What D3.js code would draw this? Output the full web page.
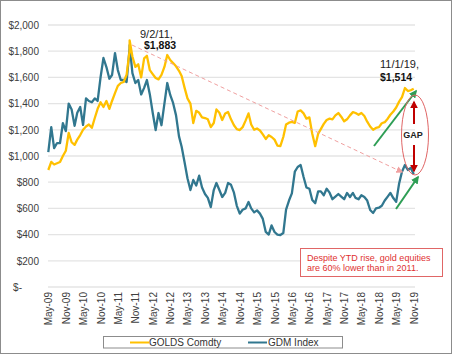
<!DOCTYPE html>
<html><head><meta charset="utf-8">
<script src="https://cdn.jsdelivr.net/npm/d3@7"></script>
<style>
body{margin:0;background:#fff;}
svg{display:block;font-family:"Liberation Sans",Arial,sans-serif;}
</style></head>
<body><svg id="c" width="454" height="357"></svg>
<script>
// monthly observation dates (first of month), May 2009 .. Nov 2019
const startMonth = "2009-05-01";
const nMonths = 127;
const goldValues = [893,955,935,945,954,1000,1040,1176,1105,1085,1125,1160,1200,1225,1240,1215,1290,1360,1410,1374,1420,1360,1420,1480,1535,1557,1565,1620,1800,1760,1680,1700,1600,1745,1765,1655,1625,1595,1585,1620,1680,1771,1733,1710,1685,1650,1610,1520,1440,1400,1252,1345,1330,1295,1290,1280,1220,1252,1355,1330,1275,1325,1336,1280,1235,1205,1198,1220,1270,1325,1240,1200,1210,1195,1165,1130,1158,1145,1125,1080,1075,1145,1240,1254,1260,1252,1340,1348,1325,1285,1295,1170,1075,1170,1205,1245,1275,1285,1280,1310,1328,1300,1265,1280,1310,1335,1328,1315,1328,1305,1262,1225,1200,1214,1220,1250,1258,1285,1315,1340,1370,1415,1450,1519,1496,1502,1514];
const gdmValues = [1030,1221,1060,1099,1099,1250,1190,1400,1355,1230,1330,1374,1237,1440,1420,1410,1440,1420,1603,1748,1679,1590,1618,1786,1656,1580,1580,1565,1820,1633,1557,1580,1470,1520,1580,1470,1330,1198,1328,1235,1400,1557,1466,1405,1310,1150,1070,950,830,740,817,775,850,760,710,680,610,740,794,740,687,718,794,780,720,620,560,590,600,649,600,570,585,560,520,420,400,470,420,400,397,412,590,660,715,880,916,931,840,760,750,664,640,730,730,700,750,720,670,690,710,690,670,718,687,718,680,670,700,687,660,588,565,600,605,620,660,690,718,679,650,790,880,931,893,910,860];
// peak observation
const peakDate = "2011-09-02", goldPeak = 1883, gdmPeak = 1847;
const yTicks = [0,200,400,600,800,1000,1200,1400,1600,1800,2000];
const seriesNames = ["GOLDS Comdty","GDM Index"];
const colors = ["#ffc000","#31778f"];

const parse = d3.timeParse("%Y-%m-%d");
const t0 = parse(startMonth);
const dates = d3.range(nMonths).map(i => d3.timeMonth.offset(t0, i));
function build(vals, peakVal){
  const arr = dates.map((d,i)=>({d, v: vals[i]}));
  arr.push({d: parse(peakDate), v: peakVal});
  arr.sort((a,b)=>a.d-b.d);
  return arr;
}
const gold = build(goldValues, goldPeak);
const gdm = build(gdmValues, gdmPeak);

const svg = d3.select("#c");
const x = d3.scaleTime().domain([t0, dates[dates.length-1]]).range([48.3, 413.7]);
const y = d3.scaleLinear().domain([0,2000]).range([287,25]);

// outer border
svg.append("rect").attr("x",0.5).attr("y",0.5).attr("width",451).attr("height",353)
  .attr("fill","none").attr("stroke","#8c8c8c").attr("stroke-width",1);

// gridlines
svg.append("g").selectAll("line").data(yTicks).join("line")
  .attr("x1",48).attr("x2",415).attr("y1",d=>y(d)).attr("y2",d=>y(d))
  .attr("stroke","#e4e4e4").attr("stroke-width",1.3);

// y axis labels
const yAxis = d3.axisLeft(y).tickValues(yTicks).tickSize(0).tickPadding(0)
  .tickFormat(d => d===0 ? "$-" : "$" + d3.format(",")(d));
const gy = svg.append("g").attr("transform","translate(39,0)").call(yAxis);
gy.select(".domain").remove();
gy.selectAll("text").attr("font-size",10).attr("fill","#404040")
  .attr("font-family","Liberation Sans, Arial, sans-serif")
  .attr("dx", d => d===0 ? -17 : 0);

// x axis labels
const xTickDates = d3.range(0, nMonths, 6).map(i => dates[i]);
const xAxis = d3.axisBottom(x).tickValues(xTickDates).tickSize(0).tickPadding(0)
  .tickFormat(d3.timeFormat("%b-%y"));
const gx = svg.append("g").attr("transform","translate(0,292)").call(xAxis);
gx.select(".domain").remove();
gx.selectAll("text").attr("font-size",10).attr("fill","#404040")
  .attr("font-family","Liberation Sans, Arial, sans-serif")
  .attr("text-anchor","end").attr("transform","rotate(-90)")
  .attr("x",0).attr("y",0).attr("dy","0.35em");

// lines
const line = d3.line().x(d=>x(d.d)).y(d=>y(d.v));
svg.append("path").datum(gdm).attr("d",line).attr("fill","none")
  .attr("stroke",colors[1]).attr("stroke-width",2.3).attr("stroke-linejoin","round");
svg.append("path").datum(gold).attr("d",line).attr("fill","none")
  .attr("stroke",colors[0]).attr("stroke-width",2.3).attr("stroke-linejoin","round");

// markers
const defs = svg.append("defs");
function marker(id, color, size){
  defs.append("marker").attr("id",id).attr("viewBox","0 0 10 10").attr("refX",8).attr("refY",5)
    .attr("markerWidth",size).attr("markerHeight",size).attr("orient","auto-start-reverse")
    .attr("markerUnits","userSpaceOnUse")
    .append("path").attr("d","M0,0 L10,5 L0,10 z").attr("fill",color);
}
marker("mp","#f0a0a0",7);
marker("mg","#2e9e55",8);
marker("mr","#c00000",8);

// pink dashed trend line
svg.append("line").attr("x1",132).attr("y1",45).attr("x2",402).attr("y2",172)
  .attr("stroke","#f0a0a0").attr("stroke-width",1).attr("stroke-dasharray","4,3")
  .attr("marker-end","url(#mp)");

// green arrows
svg.append("line").attr("x1",374).attr("y1",146).attr("x2",416).attr("y2",91)
  .attr("stroke","#2e9e55").attr("stroke-width",2).attr("marker-end","url(#mg)");
svg.append("line").attr("x1",396).attr("y1",209).attr("x2",418).attr("y2",177)
  .attr("stroke","#2e9e55").attr("stroke-width",2).attr("marker-end","url(#mg)");

// gap ellipse & arrows
svg.append("ellipse").attr("cx",415).attr("cy",135).attr("rx",13.5).attr("ry",40)
  .attr("fill","none").attr("stroke","#e06666").attr("stroke-width",1);
svg.append("line").attr("x1",414).attr("y1",124).attr("x2",414).attr("y2",102)
  .attr("stroke","#c00000").attr("stroke-width",2).attr("marker-end","url(#mr)");
svg.append("line").attr("x1",414).attr("y1",145).attr("x2",414).attr("y2",171)
  .attr("stroke","#c00000").attr("stroke-width",2).attr("marker-end","url(#mr)");
svg.append("text").attr("x",413).attr("y",138).attr("text-anchor","middle")
  .attr("font-size",9).attr("font-weight","bold").attr("fill","#222").text("GAP");

// peak annotations
svg.append("text").attr("x",140).attr("y",38).attr("font-size",11).attr("fill","#222").text("9/2/11,");
svg.append("text").attr("x",144).attr("y",49).attr("font-size",10.5).attr("font-weight","bold").attr("fill","#111").text("$1,883");
svg.append("text").attr("x",380).attr("y",68).attr("font-size",11).attr("fill","#222").text("11/1/19,");
svg.append("text").attr("x",380).attr("y",81).attr("font-size",10.5).attr("font-weight","bold").attr("fill","#111").text("$1,514");

// red note box
svg.append("rect").attr("x",300.5).attr("y",248.5).attr("width",142).attr("height",28)
  .attr("fill","#fff").attr("stroke","#e06666").attr("stroke-width",1);
const note = svg.append("text").attr("font-size",9).attr("fill","#e03030");
note.append("tspan").attr("x",307).attr("y",261).text("Despite YTD rise, gold equities");
note.append("tspan").attr("x",307).attr("y",271).text("are 60% lower than in 2011.");

// legend
svg.append("rect").attr("x",103.5).attr("y",336.5).attr("width",239).attr("height",11.5)
  .attr("fill","#fff").attr("stroke","#8c8c8c").attr("stroke-width",1);
const leg = [{x:130, tx:149, name:seriesNames[0], c:colors[0]},{x:248, tx:268, name:seriesNames[1], c:colors[1]}];
leg.forEach(l=>{
  svg.append("line").attr("x1",l.x).attr("x2",l.x+19).attr("y1",342.5).attr("y2",342.5)
    .attr("stroke",l.c).attr("stroke-width",2);
  svg.append("text").attr("x",l.tx).attr("y",346).attr("font-size",10).attr("fill","#333").text(l.name);
});
</script></body></html>
